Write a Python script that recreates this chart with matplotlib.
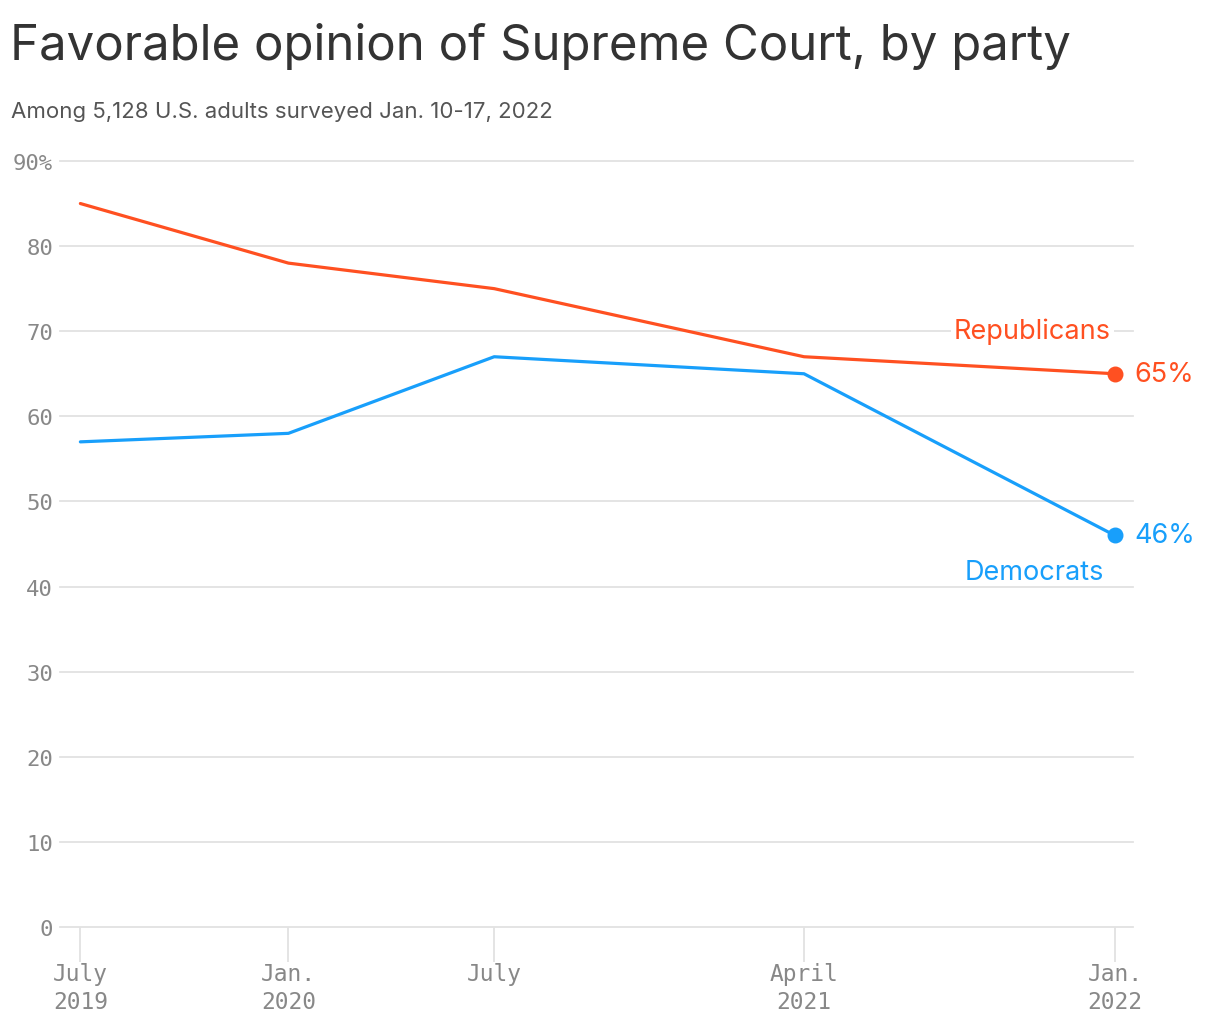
import matplotlib
matplotlib.use("Agg")
import matplotlib.pyplot as plt
import pandas as pd

# ── Data ──────────────────────────────────────────────────────────────────────
dates = pd.to_datetime(["2019-07-01", "2020-01-01", "2020-07-01", "2021-04-01", "2022-01-01"])
republicans = [85, 78, 75, 67, 65]
democrats = [57, 58, 67, 65, 46]
tick_labels = ["July\n2019", "Jan.\n2020", "July", "April\n2021", "Jan.\n2022"]
y_ticks = [0, 10, 20, 30, 40, 50, 60, 70, 80, 90]

REP = "#ff5021"
DEM = "#189ffb"
GRID = "#e2e2e2"
SANS = ["Inter", "DejaVu Sans"]
MONO = ["DejaVu Sans Mono"]

fig = plt.figure(figsize=(12.2, 10.2), dpi=100)
ax = fig.add_axes([0.0492, 0.0902, 0.8795, 0.751])

ax.plot(dates, republicans, color=REP, lw=2.3, solid_capstyle="round", zorder=3)
ax.plot(dates, democrats, color=DEM, lw=2.3, solid_capstyle="round", zorder=3)
ax.scatter(dates[-1:], republicans[-1:], s=110, color=REP, zorder=4, clip_on=False)
ax.scatter(dates[-1:], democrats[-1:], s=110, color=DEM, zorder=4, clip_on=False)

ax.set_xlim(pd.Timestamp("2019-06-13"), pd.Timestamp("2022-01-17"))
ax.set_ylim(0, 90)

# grid / ticks
ax.set_yticks(y_ticks)
ax.set_yticklabels([f"{v}%" if v == 90 else str(v) for v in y_ticks],
                   family=MONO, fontsize=16, color="#888888")
ax.yaxis.grid(True, color=GRID, lw=1.3)
for gl in ax.get_ygridlines():
    gl.set_clip_on(False)
ax.set_axisbelow(True)
ax.tick_params(axis="y", length=0, pad=5)

ax.set_xticks(dates)
ax.set_xticklabels(tick_labels, family=MONO, fontsize=16.5, color="#888888",
                   linespacing=1.3)
ax.tick_params(axis="x", length=25, width=1.3, color=GRID, pad=0)

for s in ax.spines.values():
    s.set_visible(False)

# end labels
ax.annotate(f"{republicans[-1]}%", (dates[-1], republicans[-1]), xytext=(14, 0),
            textcoords="offset points", ha="left", va="center",
            color=REP, fontsize=19.5, family=SANS, annotation_clip=False)
ax.annotate(f"{democrats[-1]}%", (dates[-1], democrats[-1]), xytext=(14, 0),
            textcoords="offset points", ha="left", va="center",
            color=DEM, fontsize=19.5, family=SANS, annotation_clip=False)
ax.text(pd.Timestamp("2021-10-20"), 70.1, "Republicans", ha="center", va="center",
        color=REP, fontsize=19.5, family=SANS,
        bbox=dict(facecolor="white", edgecolor="none", pad=2))
ax.text(pd.Timestamp("2021-10-22"), 41.7, "Democrats", ha="center", va="center",
        color=DEM, fontsize=19.5, family=SANS)

# titles
fig.text(0.008, 0.954, "Favorable opinion of Supreme Court, by party",
         ha="left", va="center", fontsize=35.4, color="#333333", family=SANS)
fig.text(0.009, 0.890, "Among 5,128 U.S. adults surveyed Jan. 10-17, 2022",
         ha="left", va="center", fontsize=16, color="#555555", family=SANS)

fig.savefig("out.png", dpi=100)
